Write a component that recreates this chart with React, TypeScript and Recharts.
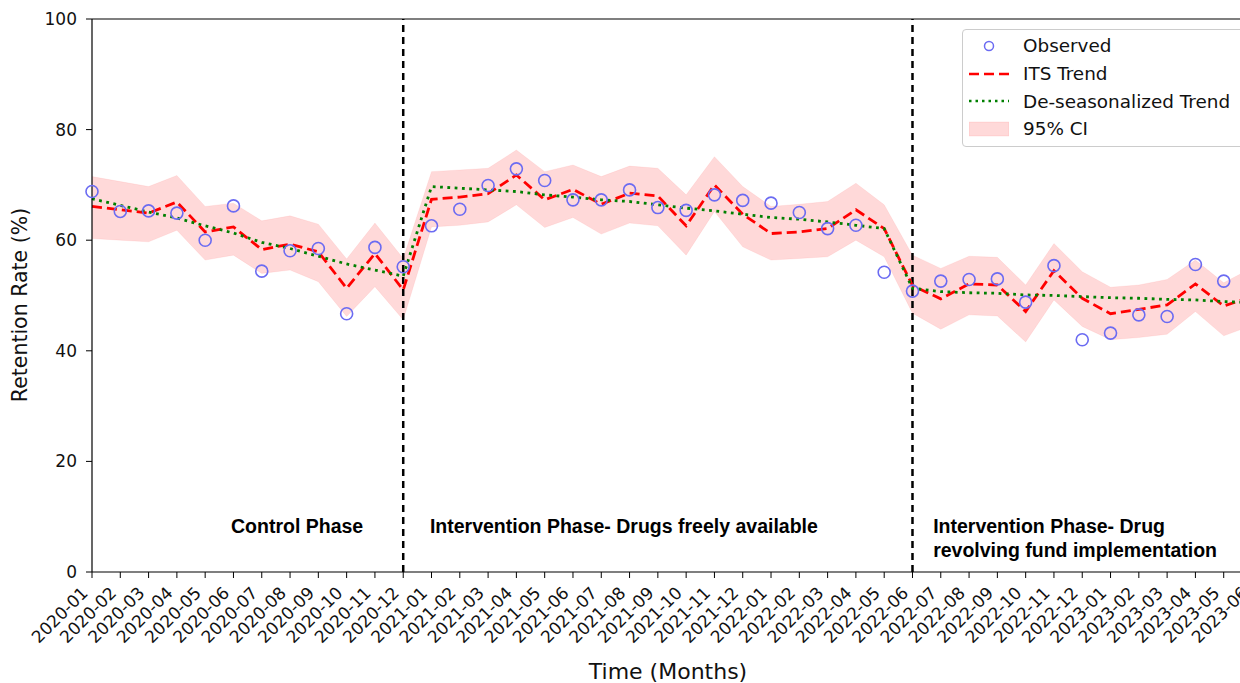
import { ComposedChart, Line, Area, Scatter, XAxis, YAxis, ReferenceLine, ReferenceDot } from "recharts";

const months = [
  "2020-01", "2020-02", "2020-03", "2020-04", "2020-05", "2020-06", "2020-07", "2020-08", "2020-09", "2020-10", "2020-11", "2020-12",
  "2021-01", "2021-02", "2021-03", "2021-04", "2021-05", "2021-06", "2021-07", "2021-08", "2021-09", "2021-10", "2021-11", "2021-12",
  "2022-01", "2022-02", "2022-03", "2022-04", "2022-05", "2022-06", "2022-07", "2022-08", "2022-09", "2022-10", "2022-11", "2022-12",
  "2023-01", "2023-02", "2023-03", "2023-04", "2023-05", "2023-06",
];

const observed = [
  68.8, 65.2, 65.3, 64.9, 60.0, 66.2, 54.4, 58.1, 58.5, 46.7, 58.7, 55.2,
  62.6, 65.6, 69.9, 72.9, 70.8, 67.3, 67.3, 69.1, 65.9, 65.4, 68.2, 67.2,
  66.7, 65.0, 62.1, 62.7, 54.2, 50.8, 52.6, 52.9, 53.0, 48.8, 55.4, 42.0,
  43.2, 46.5, 46.2, 55.6, 52.6, 50.5,
];

const itsTrend = [
  66.1, 65.5, 64.9, 66.9, 61.5, 62.4, 58.3, 59.3, 57.9, 51.3, 57.6, 51.0,
  67.4, 67.8, 68.4, 71.8, 67.3, 69.2, 66.5, 68.5, 68.0, 62.6, 70.0, 64.7,
  61.2, 61.5, 62.1, 65.5, 62.1, 51.8, 49.4, 52.1, 51.9, 47.1, 54.5, 49.5,
  46.7, 47.5, 48.3, 52.1, 48.1, 49.8,
];

const deseasonTrend = [
  67.5, 66.3, 65.1, 64.0, 62.6, 61.3, 59.6, 58.5, 57.1, 55.7, 54.6, 53.5,
  69.7, 69.4, 69.1, 68.8, 68.2, 67.8, 67.3, 67.0, 66.4, 65.8, 65.3, 64.7,
  64.1, 63.8, 63.3, 62.7, 62.1, 51.3, 50.7, 50.5, 50.4, 50.1, 50.0, 49.8,
  49.6, 49.5, 49.3, 49.2, 48.9, 48.7,
];

const ciUpper = [
  71.5, 70.6, 69.7, 71.7, 66.1, 66.7, 63.5, 64.4, 62.9, 56.6, 63.1, 56.7,
  72.4, 72.7, 73.0, 76.3, 72.4, 73.6, 71.5, 73.4, 73.0, 68.2, 75.1, 69.7,
  66.1, 66.5, 67.0, 70.3, 66.4, 57.3, 54.9, 57.1, 56.9, 51.9, 59.4, 54.3,
  51.5, 51.9, 52.9, 56.4, 52.3, 55.0,
];

const ciLower = [
  60.3, 60.0, 59.7, 61.8, 56.4, 57.3, 54.0, 54.6, 52.5, 46.2, 51.6, 45.6,
  62.4, 62.7, 63.3, 66.4, 62.3, 64.1, 61.1, 63.1, 62.6, 57.3, 65.2, 58.8,
  56.4, 56.7, 57.0, 60.0, 57.0, 46.8, 43.9, 46.5, 46.3, 41.6, 49.2, 44.4,
  42.0, 42.4, 43.0, 47.1, 42.7, 44.6,
];

const yTicks = [0, 20, 40, 60, 80, 100];
const phaseBreaks = ["2020-12", "2022-06"];

const data = months.map((m, i) => ({
  i,
  month: m,
  obs: observed[i],
  its: itsTrend[i],
  deseason: deseasonTrend[i],
  ci: [ciLower[i], ciUpper[i]],
}));

const FONT = "'DejaVu Sans', sans-serif";
const BOLD_FONT = "'Liberation Sans', Arial, sans-serif";
const OBS_COLOR = "#6b6bf2";

const MonthTick = (props: any) => {
  const { x, y, payload } = props;
  return (
    <text
      transform={`translate(${x - 3},${y + 14}) rotate(-45)`}
      textAnchor="end"
      fontSize={17}
      fontFamily={FONT}
      fill="#111"
    >
      {months[payload.value]}
    </text>
  );
};

const phaseLabel = (lines: string[], anchor: "middle" | "start") => (props: any) => {
  const vb = props.viewBox || {};
  const x = vb.x + (vb.width || 0) / 2;
  const y = vb.y + (vb.height || 0) / 2;
  return (
    <text x={x} y={y} textAnchor={anchor} fontSize={19.5} fontWeight="bold" fontFamily={BOLD_FONT} fill="#000">
      {lines.map((l, k) => (
        <tspan key={k} x={x} dy={k === 0 ? 0 : 24}>
          {l}
        </tspan>
      ))}
    </text>
  );
};

const LegendBox = () => {
  const row = { display: "flex", alignItems: "center", height: 27.7 } as const;
  const key = { width: 40, height: 16, marginRight: 14 };
  return (
    <div
      style={{
        position: "absolute",
        left: 962,
        top: 29,
        width: 300,
        height: 118,
        padding: "2px 0 0 6px",
        border: "1px solid #cccccc",
        borderRadius: 4,
        background: "rgba(255,255,255,0.85)",
        fontFamily: FONT,
        fontSize: 18.4,
        color: "#111",
        boxSizing: "border-box",
      }}
    >
      <div style={row}>
        <svg style={key}>
          <circle cx={20} cy={8} r={4.5} fill="none" stroke={OBS_COLOR} strokeWidth={1.5} />
        </svg>
        Observed
      </div>
      <div style={row}>
        <svg style={key}>
          <line x1={0} y1={8} x2={40} y2={8} stroke="#ff0000" strokeWidth={2.5} strokeDasharray="10 5" />
        </svg>
        ITS Trend
      </div>
      <div style={row}>
        <svg style={key}>
          <line x1={0} y1={8} x2={40} y2={8} stroke="#008000" strokeWidth={2.5} strokeDasharray="2.5 4" />
        </svg>
        De-seasonalized Trend
      </div>
      <div style={row}>
        <svg style={key}>
          <rect x={0} y={1} width={40} height={14} fill="#ff0000" fillOpacity={0.15} stroke="#ff0000" strokeOpacity={0.08} />
        </svg>
        95% CI
      </div>
    </div>
  );
};

const App = () => (
  <div style={{ position: "absolute", left: 0, top: 0, width: 1240, height: 683, overflow: "hidden", background: "#fff" }}>
    <ComposedChart width={1260} height={683} data={data} margin={{ top: 19, right: 8, bottom: 0, left: 0 }}>
      <XAxis
        dataKey="i"
        type="number"
        domain={[0, months.length - 1]}
        ticks={months.map((_, i) => i)}
        interval={0}
        height={111}
        tick={<MonthTick />}
        tickLine={{ stroke: "#000" }}
        axisLine={{ stroke: "#000", strokeWidth: 1.2 }}
        tickSize={6}
        label={{
          content: () => (
            <text x={668} y={679} textAnchor="middle" fontSize={22} fontFamily={FONT} fill="#111">
              Time (Months)
            </text>
          ),
        }}
      />
      <YAxis
        type="number"
        domain={[0, 100]}
        ticks={yTicks}
        width={92}
        tickSize={6}
        tickMargin={9}
        tick={{ fontSize: 17, fontFamily: FONT, fill: "#111" }}
        tickLine={{ stroke: "#000" }}
        axisLine={{ stroke: "#000", strokeWidth: 1.2 }}
        label={{
          content: () => (
            <text transform="translate(27,305) rotate(-90)" textAnchor="middle" fontSize={20.5} fontFamily={FONT} fill="#111">
              Retention Rate (%)
            </text>
          ),
        }}
      />
      <ReferenceLine y={100} stroke="#000" strokeWidth={1.2} />
      <Area
        dataKey="ci"
        type="linear"
        fill="#ff0000"
        fillOpacity={0.15}
        stroke="#ff0000"
        strokeOpacity={0.06}
        isAnimationActive={false}
        legendType="none"
      />
      {phaseBreaks.map((m) => (
        <ReferenceLine key={m} x={months.indexOf(m)} stroke="#000" strokeWidth={2.5} strokeDasharray="7 5" />
      ))}
      <Line dataKey="its" type="linear" stroke="#ff0000" strokeWidth={2.8} strokeDasharray="10 5" dot={false} isAnimationActive={false} />
      <Line dataKey="deseason" type="linear" stroke="#008000" strokeWidth={2.8} strokeDasharray="2.8 4.5" dot={false} isAnimationActive={false} />
      <Scatter
        dataKey="obs"
        isAnimationActive={false}
        shape={(p: any) => <circle cx={p.cx} cy={p.cy} r={6} fill="none" stroke={OBS_COLOR} strokeWidth={1.6} />}
      />
      <ReferenceDot x={7.25} y={7.05} r={1} fill="none" stroke="none" label={{ content: phaseLabel(["Control Phase"], "middle") }} />
      <ReferenceDot
        x={18.8}
        y={7.05}
        r={1}
        fill="none"
        stroke="none"
        label={{ content: phaseLabel(["Intervention Phase- Drugs freely available"], "middle") }}
      />
      <ReferenceDot
        x={29.73}
        y={7.05}
        r={1}
        fill="none"
        stroke="none"
        label={{ content: phaseLabel(["Intervention Phase- Drug", "revolving fund implementation"], "start") }}
      />
    </ComposedChart>
    <LegendBox />
  </div>
);

export default App;
